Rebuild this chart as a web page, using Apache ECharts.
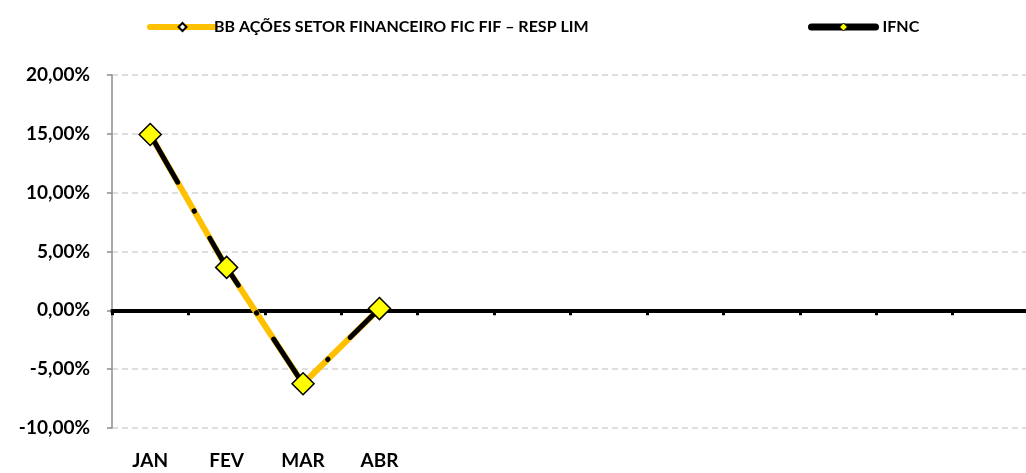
<!DOCTYPE html>
<html>
<head>
<meta charset="utf-8">
<script src="https://cdn.jsdelivr.net/npm/echarts@6/dist/echarts.min.js"></script>
<style>html,body{margin:0;padding:0;background:#fff;}#c{width:1026px;height:473px;}</style>
</head>
<body>
<div id="c"></div>
<script>
const categories = ['JAN', 'FEV', 'MAR', 'ABR', '', '', '', '', '', '', '', ''];
const fundName = 'BB AÇÕES SETOR FINANCEIRO FIC FIF – RESP LIM';
const indexName = 'IFNC';
const fundValues = [14.94, 3.65, -6.24, 0.15];
const indexValues = [14.94, 3.65, -6.24, 0.15];
const yMin = -10, yMax = 20, yStep = 5;

const FONT = 'Lato, "Liberation Sans", sans-serif';
const chart = echarts.init(document.getElementById('c'), null, {renderer: 'canvas'});
const fmt = v => v.toFixed(2).replace('.', ',') + '%';

chart.setOption({
  animation: false,
  backgroundColor: '#fff',
  grid: {left: 112, right: -3, top: 75, bottom: 45, containLabel: false, outerBoundsMode: 'none'},
  legend: [
    {
      left: 142, top: 14, itemWidth: 65, itemHeight: 10, itemGap: 5,
      data: [{name: fundName, lineStyle: {width: 6, cap: 'round'}}],
      textStyle: {fontFamily: FONT, fontWeight: 'bold', fontSize: 16, color: '#000', padding: [0, 0, 0, -6]}
    },
    {
      left: 803, top: 14, itemWidth: 64, itemHeight: 10,
      data: [{name: indexName, lineStyle: {type: 'solid', width: 7, cap: 'round'}, itemStyle: {color: '#FFFF00', borderColor: '#000', borderWidth: 1}}],
      textStyle: {fontFamily: FONT, fontWeight: 'bold', fontSize: 16, color: '#000', padding: [0, 0, 0, 2]}
    }
  ],
  xAxis: {
    type: 'category',
    data: categories,
    boundaryGap: true,
    axisLine: {onZero: true, lineStyle: {color: '#000', width: 4}},
    axisTick: {show: true, length: 5, lineStyle: {color: '#000', width: 3}},
    axisLabel: {margin: 23, fontFamily: FONT, fontWeight: 'bold', fontSize: 19, color: '#000', interval: 0},
    splitLine: {show: false}
  },
  yAxis: {
    type: 'value',
    min: yMin, max: yMax, interval: yStep,
    axisLine: {show: true, lineStyle: {color: '#8c8c8c', width: 1.5}},
    axisTick: {show: true, length: 5, lineStyle: {color: '#8c8c8c', width: 1.5}},
    axisLabel: {formatter: fmt, margin: 22, fontFamily: FONT, fontWeight: 'bold', fontSize: 19, color: '#000'},
    splitLine: {show: true, lineStyle: {color: '#d4d4d4', width: 1.5, type: [6, 4]}}
  },
  series: [
    {
      name: fundName,
      type: 'line',
      data: fundValues,
      symbol: 'diamond',
      symbolSize: 10,
      showAllSymbol: true,
      lineStyle: {color: '#FFC000', width: 6, cap: 'round'},
      itemStyle: {color: '#fff', borderColor: '#000', borderWidth: 1.5},
      z: 2
    },
    {
      name: indexName,
      type: 'line',
      data: indexValues,
      symbol: 'diamond',
      symbolSize: 22,
      showAllSymbol: true,
      lineStyle: {color: '#000', width: 5, type: [55, 33, 0.5, 31], cap: 'round'},
      itemStyle: {color: '#FFFF00', borderColor: '#000', borderWidth: 1.5},
      z: 3
    }
  ]
});
</script>
</body>
</html>
